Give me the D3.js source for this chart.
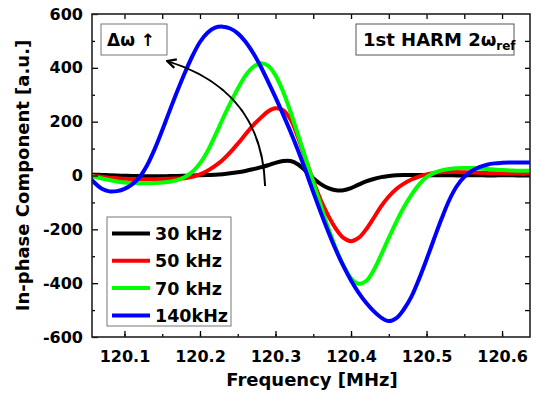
<!DOCTYPE html>
<html>
<head>
<meta charset="utf-8">
<script src="https://cdn.jsdelivr.net/npm/d3@7"></script>
<style>
  body { margin: 0; background: #fff; }
  text { font-family: "DejaVu Sans", sans-serif; font-weight: bold; }
</style>
</head>
<body>
<div id="chart"></div>
<script>

// frequency grid [MHz]
const freq = [120.05, 120.06, 120.07, 120.08, 120.09, 120.10, 120.11, 120.12, 120.13, 120.14,
              120.15, 120.16, 120.17, 120.18, 120.19, 120.20, 120.21, 120.22, 120.23, 120.24,
              120.25, 120.26, 120.27, 120.28, 120.29, 120.30, 120.31, 120.32, 120.33, 120.34,
              120.35, 120.36, 120.37, 120.38, 120.39, 120.40, 120.41, 120.42, 120.43, 120.44,
              120.45, 120.46, 120.47, 120.48, 120.49, 120.50, 120.51, 120.52, 120.53, 120.54,
              120.55, 120.56, 120.57, 120.58, 120.59, 120.60, 120.61, 120.62, 120.63, 120.64];

const k30 = [3, 3, 2, 1, 0, -1, -2, -2, -3, -3,
             -3, -2, -2, -1, 0, 1, 2, 3, 5, 8,
             12, 17, 23, 30, 38, 47, 54, 54, 41, 17,
             -10, -32, -47, -55, -55, -47, -34, -22, -13, -6,
             -2, 1, 2, 2, 2, 1, 1, 1, 1, 0,
             0, 1, 1, 0, 0, 1, 1, 0, 0, 0];

const k50 = [0, -2, -5, -8, -10, -12, -13, -14, -14, -14,
             -13, -12, -11, -10, -5, 4, 18, 36, 58, 86,
             118, 152, 185, 213, 238, 250, 243, 208, 140, 60,
             -20, -92, -150, -198, -232, -244, -232, -200, -158, -114,
             -78, -50, -30, -15, -4, 4, 9, 12, 13, 13,
             12, 11, 10, 9, 8, 8, 7, 7, 6, 6];

const k70 = [2, -4, -11, -17, -22, -26, -28, -29, -29, -28,
             -26, -23, -17, -6, 14, 45, 90, 148, 210, 268,
             322, 370, 402, 417, 408, 372, 312, 235, 150, 62,
             -25, -112, -197, -272, -335, -382, -402, -392, -352, -294,
             -232, -172, -118, -72, -34, -6, 10, 19, 24, 27,
             28, 28, 26, 24, 22, 20, 19, 18, 18, 18];

const k140 = [8, -26, -49, -59, -58, -50, -33, -6, 38, 98,
              168, 242, 314, 382, 444, 496, 530, 549, 553, 546,
              528, 498, 457, 407, 350, 290, 227, 162, 92, 17,
              -62, -138, -210, -277, -337, -390, -435, -473, -504, -528,
              -541, -530, -497, -450, -385, -312, -235, -160, -92, -40,
              -5, 17, 31, 40, 45, 47, 48, 48, 48, 48];

const seriesNames = ["30 kHz", "50 kHz", "70 kHz", "140kHz"];
const seriesColors = ["#000000", "#ff0000", "#00ff00", "#0000ff"];

const xTicks = [120.1, 120.2, 120.3, 120.4, 120.5, 120.6];
const yTicks = [-600, -400, -200, 0, 200, 400, 600];

// curved "delta omega" arrow: tail, control, tip (data units)
const arrowPts = [[120.2862, -39], [120.2822, 318], [120.1565, 425]];

const showViz = ()=>{

  const width = 537;
  const height = 396;
  const margin = {top: 14, right: 7, bottom: 59, left: 92};

  let svg = d3.select("#chart")
              .append("svg")
                  .attr("width", width)
                  .attr("height", height);

  let x = d3.scaleLinear()
            .domain([120.057, 120.637])
            .range([margin.left, width - margin.right]);

  let y = d3.scaleLinear()
            .domain([-600, 600])
            .range([height - margin.bottom, margin.top]);

  svg.append("clipPath").attr("id", "clip")
     .append("rect")
        .attr("x", margin.left).attr("y", margin.top)
        .attr("width", width - margin.left - margin.right)
        .attr("height", height - margin.top - margin.bottom);

  const all = [k30, k50, k70, k140];

  let line = d3.line()
               .x((d,i)=>x(freq[i]))
               .y(d=>y(d))
               .curve(d3.curveCatmullRom.alpha(0.5));

  svg.append("g")
     .attr("clip-path", "url(#clip)")
     .selectAll("path")
     .data(all)
     .join("path")
        .attr("fill", "none")
        .attr("stroke", (d,i)=>seriesColors[i])
        .attr("stroke-width", 4)
        .attr("stroke-linejoin", "round")
        .attr("d", line);

  // axes, ticks inward on all four sides
  const xMinor = d3.range(120.05, 120.64, 0.05).filter(v=>v > 120.057);
  const yMinor = d3.range(-500, 600, 200);
  const hyphen = d=>String(d).replace("\u2212", "-");

  let bottom = svg.append("g")
                  .attr("transform", `translate(0,${y.range()[0]})`)
                  .call(d3.axisBottom(x).tickValues(xTicks).tickSize(-6).tickFormat(d3.format(".1f")));
  bottom.selectAll(".tick text").attr("y", 14).attr("font-size", 16).attr("fill", "#000");

  svg.append("g")
     .attr("transform", `translate(0,${y.range()[0]})`)
     .call(d3.axisBottom(x).tickValues(xMinor).tickSize(-3).tickFormat(""));

  svg.append("g")
     .attr("transform", `translate(0,${margin.top})`)
     .call(d3.axisTop(x).tickValues(xMinor).tickSize(-5).tickFormat(""));

  let left = svg.append("g")
                .attr("transform", `translate(${margin.left},0)`)
                .call(d3.axisLeft(y).tickValues(yTicks).tickSize(-6).tickFormat(hyphen));
  left.selectAll(".tick text").attr("x", -9).attr("font-size", 16).attr("fill", "#000");

  svg.append("g")
     .attr("transform", `translate(${margin.left},0)`)
     .call(d3.axisLeft(y).tickValues(yMinor).tickSize(-3).tickFormat(""));

  svg.append("g")
     .attr("transform", `translate(${width - margin.right},0)`)
     .call(d3.axisRight(y).tickValues(d3.range(-500, 600, 100)).tickSize(-5).tickFormat(""));

  svg.selectAll(".domain").remove();
  svg.selectAll(".tick line").attr("stroke", "#000").attr("stroke-width", 1.3);

  svg.append("rect")
     .attr("x", margin.left).attr("y", margin.top)
     .attr("width", width - margin.left - margin.right)
     .attr("height", height - margin.top - margin.bottom)
     .attr("fill", "none")
     .attr("stroke", "#222")
     .attr("stroke-width", 1.6);

  // axis titles
  svg.append("text")
     .attr("x", (x.range()[0] + x.range()[1]) / 2 + 1)
     .attr("y", 386)
     .attr("text-anchor", "middle")
     .attr("font-size", 18)
     .text("Frequency [MHz]");

  svg.append("text")
     .attr("transform", `translate(29,${(y.range()[0] + y.range()[1]) / 2}) rotate(-90)`)
     .attr("text-anchor", "middle")
     .attr("font-size", 18)
     .text("In-phase Component [a.u.]");

  // arrow
  svg.append("defs").append("marker")
     .attr("id", "head")
     .attr("viewBox", "0 0 10 10")
     .attr("refX", 9).attr("refY", 5)
     .attr("markerWidth", 11).attr("markerHeight", 11)
     .attr("markerUnits", "userSpaceOnUse")
     .attr("orient", "auto")
     .append("path")
        .attr("d", "M1,1 L9,5 L1,9")
        .attr("fill", "none")
        .attr("stroke", "#000")
        .attr("stroke-width", 2);

  const p = arrowPts.map(d=>[x(d[0]), y(d[1])]);
  svg.append("path")
     .attr("d", `M${p[0][0]},${p[0][1]} Q${p[1][0]},${p[1][1]} ${p[2][0]},${p[2][1]}`)
     .attr("fill", "none")
     .attr("stroke", "#000")
     .attr("stroke-width", 2)
     .attr("marker-end", "url(#head)");

  // annotation boxes
  svg.append("rect")
     .attr("x", 101).attr("y", 24).attr("width", 66).attr("height", 31)
     .attr("fill", "#fff").attr("stroke", "#777").attr("stroke-width", 1);
  svg.append("text")
     .attr("x", 107).attr("y", 46)
     .attr("font-size", 17)
     .text("Δω ↑");

  svg.append("rect")
     .attr("x", 356).attr("y", 24).attr("width", 158).attr("height", 31)
     .attr("fill", "#fff").attr("stroke", "#555").attr("stroke-width", 1);
  let harm = svg.append("text")
                .attr("x", 363).attr("y", 46)
                .attr("font-family", "'Open Sans', sans-serif")
                .attr("font-size", 18)
                .text("1st HARM 2ω");
  harm.append("tspan")
      .attr("dy", 4)
      .attr("font-size", 12)
      .text("ref");

  // legend
  let legend = svg.append("g");
  legend.append("rect")
        .attr("x", 107).attr("y", 217).attr("width", 124).attr("height", 109)
        .attr("fill", "#fff").attr("stroke", "#777").attr("stroke-width", 1);

  let rows = legend.selectAll("g.row")
                   .data(seriesNames)
                   .join("g")
                      .attr("class", "row")
                      .attr("transform", (d,i)=>`translate(0,${233.5 + i * 27.3})`);
  rows.append("line")
      .attr("x1", 112).attr("x2", 150)
      .attr("stroke", (d,i)=>seriesColors[i])
      .attr("stroke-width", 4);
  rows.append("text")
      .attr("x", 155).attr("y", 6.5)
      .attr("font-size", 17.5)
      .text(d=>d);
}

showViz()
</script>
</body>
</html>
